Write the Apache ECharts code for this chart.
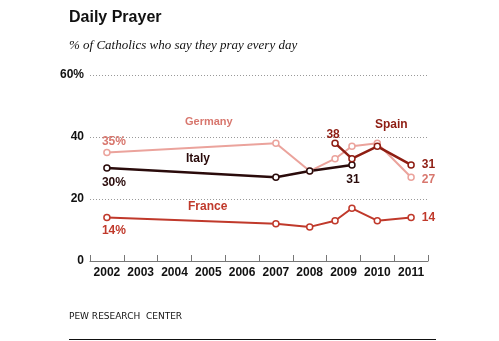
<!DOCTYPE html>
<html>
<head>
<meta charset="utf-8">
<script src="https://cdn.jsdelivr.net/npm/echarts@6/dist/echarts.min.js"></script>
<style>
  html, body { margin: 0; padding: 0; background: #fff; }
  #chart { width: 499px; height: 341px; }
</style>
</head>
<body>
<div id="chart"></div>
<script>
// Year bands on the axis
const years = ['2002', '2003', '2004', '2005', '2006', '2007', '2008', '2009', '2010', '2011'];
// Survey dates (fractional years; 2009 had two waves)
const surveyDates = [2002.5, 2007.5, 2008.5, 2009.25, 2009.75, 2010.5, 2011.5];
// % of Catholics who pray every day, per survey
const germany = [35, 38, 29, 33, 37, 38, 27];
const italy   = [30, 27, 29, null, 31, null, null];
const spain   = [null, null, null, 38, 33, 37, 31];
const france  = [14, 12, 11, 13, 17, 13, 14];
const yTicks = [0, 20, 40, 60];

const colors = {
  germany: '#eba39c',
  germanyText: '#d8776e',
  italy: '#2a0b0b',
  spain: '#8e1d12',
  france: '#c0392b'
};

function pairs(values) {
  const out = [];
  values.forEach((v, i) => { if (v !== null) out.push([surveyDates[i], v]); });
  return out;
}

// label settings for first / last points of each series
function endLabels(values, opts) {
  const data = pairs(values);
  return data.map((d, i) => {
    const item = { value: d };
    const o = opts[i === 0 ? 'first' : (i === data.length - 1 ? 'last' : i)];
    if (o) item.label = Object.assign({ show: true }, o);
    return item;
  });
}

const labelFont = { fontFamily: 'Liberation Sans, Arial, sans-serif', fontWeight: 'bold', fontSize: 12 };

function lineSeries(name, values, color, width, opts) {
  return {
    name, type: 'line', xAxisIndex: 1,
    data: endLabels(values, opts),
    symbol: 'circle', symbolSize: 6,
    itemStyle: { color: '#fff', borderColor: color, borderWidth: 1.5 },
    lineStyle: { color, width },
    label: Object.assign({ color }, labelFont),
    z: 3
  };
}

const chart = echarts.init(document.getElementById('chart'), null, { renderer: 'canvas' });
chart.setOption({
  animation: false,
  backgroundColor: '#fff',
  grid: { left: 90, right: 71, top: 75, bottom: 80 },
  xAxis: [
    {
      type: 'category', data: years, boundaryGap: true,
      axisLine: { lineStyle: { color: '#777', width: 1 } },
      axisTick: { show: true, inside: true, length: 6, lineStyle: { color: '#777' } },
      axisLabel: Object.assign({ color: '#111', margin: 6, interval: 0 }, labelFont),
      splitLine: { show: false }
    },
    {
      type: 'value', min: 2002, max: 2012, show: false
    }
  ],
  yAxis: {
    type: 'value', min: 0, max: 60, interval: 20,
    axisLine: { show: false }, axisTick: { show: false },
    axisLabel: Object.assign({
      color: '#111', margin: 6,
      formatter: v => (v === yTicks[yTicks.length - 1] ? v + '%' : String(v))
    }, labelFont),
    splitLine: { lineStyle: { color: '#999', type: [1, 2], width: 1 } }
  },
  series: [
    lineSeries('Germany', germany, colors.germany, 2, {
      first: { position: 'top', formatter: '{@[1]}%', align: 'left', offset: [-5, 4], color: colors.germanyText },
      last: { position: 'right', formatter: '{@[1]}', offset: [2, 2], color: colors.germanyText }
    }),
    lineSeries('Italy', italy, colors.italy, 2.5, {
      first: { position: 'bottom', formatter: '{@[1]}%', align: 'left', offset: [-5, 0] },
      last: { position: 'bottom', formatter: '{@[1]}', offset: [1, 0] }
    }),
    lineSeries('Spain', spain, colors.spain, 2.5, {
      first: { position: 'top', formatter: '{@[1]}', offset: [-2, 6] },
      last: { position: 'right', formatter: '{@[1]}', offset: [2, 0] }
    }),
    lineSeries('France', france, colors.france, 2, {
      first: { position: 'bottom', formatter: '{@[1]}%', align: 'left', offset: [-5, -2] },
      last: { position: 'right', formatter: '{@[1]}', offset: [2, 0] }
    })
  ],
  graphic: [
    { type: 'text', left: 69, top: 10, style: { text: 'Daily Prayer', fill: '#111', font: 'bold 16px "Liberation Sans", Arial, sans-serif' } },
    { type: 'text', left: 69, top: 39, style: { text: '% of Catholics who say they pray every day', fill: '#111', font: 'italic 13px "Liberation Serif", serif' } },
    { type: 'text', left: 185, top: 116, style: { text: 'Germany', fill: colors.germanyText, font: 'bold 11px "Liberation Sans", Arial, sans-serif' } },
    { type: 'text', left: 186, top: 153, style: { text: 'Italy', fill: colors.italy, font: 'bold 12px "Liberation Sans", Arial, sans-serif' } },
    { type: 'text', left: 375, top: 119, style: { text: 'Spain', fill: colors.spain, font: 'bold 12px "Liberation Sans", Arial, sans-serif' } },
    { type: 'text', left: 188, top: 201, style: { text: 'France', fill: colors.france, font: 'bold 12px "Liberation Sans", Arial, sans-serif' } },
    { type: 'text', left: 69, top: 312, style: { text: 'PEW RESEARCH  CENTER', fill: '#111', font: '9px "DejaVu Sans", Verdana, sans-serif' } },
    { type: 'rect', shape: { x: 69, y: 339, width: 367, height: 1 }, style: { fill: '#111' } }
  ]
});
</script>
</body>
</html>
